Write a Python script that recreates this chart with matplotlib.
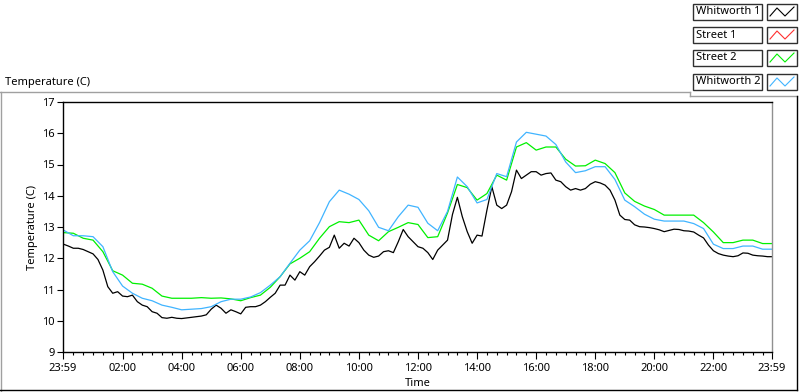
import numpy as np
import matplotlib
matplotlib.use("Agg")
import matplotlib.pyplot as plt
from matplotlib.lines import Line2D
from matplotlib.patches import Rectangle

plt.rcParams['font.family'] = ['Noto Sans', 'DejaVu Sans']

# sample times, minutes since midnight (last sample at 23:59)
t_10 = np.append(np.arange(0, 1440, 10), 1439)
t_20 = np.append(np.arange(0, 1440, 20), 1439)

whitworth1 = [
    12.45, 12.39, 12.32, 12.32, 12.28, 12.21, 12.14, 11.96, 11.62, 11.09,
    10.88, 10.93, 10.79, 10.77, 10.82, 10.61, 10.50, 10.45, 10.29, 10.24,
    10.10, 10.08, 10.11, 10.08, 10.07, 10.09, 10.11, 10.13, 10.15, 10.19,
    10.37, 10.50, 10.40, 10.24, 10.35, 10.29, 10.22, 10.43,
    10.45, 10.45, 10.50, 10.61, 10.75, 10.88, 11.14, 11.14, 11.46, 11.30,
    11.57, 11.46, 11.73, 11.89, 12.07, 12.26, 12.35, 12.74, 12.32, 12.48,
    12.39, 12.64, 12.50, 12.26, 12.10, 12.03, 12.07, 12.21, 12.24, 12.18,
    12.53, 12.92, 12.69, 12.53, 12.37, 12.32, 12.18, 11.96, 12.26, 12.42,
    12.58, 13.40, 13.95,
    13.33, 12.85, 12.48, 12.74, 12.71, 13.54, 14.29, 13.70, 13.59, 13.70,
    14.13, 14.82, 14.55, 14.66, 14.77, 14.77, 14.66, 14.71, 14.73, 14.50,
    14.45, 14.29, 14.18, 14.23, 14.18, 14.23, 14.37, 14.45, 14.41, 14.34,
    14.18, 13.86,
    13.38, 13.24, 13.22, 13.07, 13.01, 13.00, 12.98, 12.95, 12.91, 12.85,
    12.89, 12.93, 12.92, 12.88, 12.87, 12.84, 12.74, 12.65, 12.42, 12.24,
    12.15, 12.10, 12.07, 12.05, 12.08, 12.17, 12.16, 12.10, 12.08, 12.07,
    12.05, 12.05,
]

street1 = []  # no visible trace in the chart

street2 = [
    12.82, 12.80, 12.64, 12.58, 12.21, 11.60, 11.46, 11.20, 11.17, 11.04,
    10.79, 10.72, 10.72, 10.72, 10.74, 10.72, 10.73, 10.70, 10.64, 10.74,
    10.82, 11.07, 11.41, 11.82, 12.00, 12.21, 12.64, 13.01, 13.17, 13.14,
    13.22, 12.74, 12.56, 12.85, 12.99, 13.14, 13.08, 12.66, 12.69, 13.45,
    14.36, 14.26, 13.86, 14.07, 14.66, 14.50, 15.56, 15.70, 15.46, 15.56,
    15.56, 15.17, 14.95, 14.96, 15.14, 15.03,
    14.74, 14.09, 13.82, 13.67, 13.56, 13.38, 13.38, 13.38, 13.38, 13.14,
    12.84, 12.50, 12.50, 12.58, 12.58, 12.47, 12.47,
]

whitworth2 = [
    12.90, 12.72, 12.72, 12.69, 12.37, 11.57, 11.11, 10.88, 10.72, 10.64,
    10.50, 10.43, 10.35, 10.37, 10.39, 10.45, 10.61, 10.69, 10.69, 10.76,
    10.90, 11.14, 11.41, 11.84, 12.26, 12.56, 13.14, 13.81, 14.18, 14.05,
    13.88, 13.52, 12.99, 12.88, 13.33, 13.70, 13.63, 13.12, 12.88, 13.50,
    14.60, 14.29, 13.77, 13.88, 14.71, 14.61, 15.72, 16.03, 15.97, 15.91,
    15.64, 15.08, 14.74, 14.80, 14.93, 14.93,
    14.52, 13.86, 13.65, 13.41, 13.25, 13.19, 13.19, 13.19, 13.11, 12.95,
    12.45, 12.31, 12.31, 12.39, 12.39, 12.29, 12.29,
]

names = ['Whitworth 1', 'Street 1', 'Street 2', 'Whitworth 2']
colors = ['#000000', '#ff3030', '#00f000', '#40b4ff']

major_min = [-1, 120, 240, 360, 480, 600, 720, 840, 960, 1080, 1200, 1320, 1439]
major_lbl = ['23:59', '02:00', '04:00', '06:00', '08:00', '10:00', '12:00',
             '14:00', '16:00', '18:00', '20:00', '22:00', '23:59']

W, H = 800, 392
fig = plt.figure(figsize=(W / 100, H / 100), dpi=100)


def fx(x):
    return x / W


def fy(y):
    return 1 - y / H


ax = fig.add_axes([fx(63), fy(352), fx(772) - fx(63), fy(102) - fy(352)])

ax.plot(t_10, whitworth1, color=colors[0], lw=0.9)
ax.plot(t_20[:len(street1)], street1, color=colors[1], lw=0.9)
ax.plot(t_20, street2, color=colors[2], lw=0.9)
ax.plot(t_20, whitworth2, color=colors[3], lw=0.9)

ax.set_xlim(-1, 1439)
ax.set_ylim(9, 17)
ax.set_yticks(range(9, 18))
ax.set_xticks(major_min)
ax.set_xticklabels(major_lbl)
minor = [m for m in range(20, 1439, 20) if m % 120 != 0]
ax.set_xticks(minor, minor=True)
ax.tick_params(axis='both', which='major', direction='out', length=4, width=0.8,
               labelsize=8, pad=2)
ax.tick_params(axis='x', which='major', length=5, pad=3)
ax.tick_params(axis='x', which='minor', direction='out', length=2.5, width=0.8)
for s in ['left', 'top', 'bottom']:
    ax.spines[s].set_color('black')
    ax.spines[s].set_linewidth(1)
ax.spines['right'].set_color('#909090')
ax.spines['right'].set_linewidth(1)

ax.set_xlabel('Time', fontsize=8, labelpad=3)
ax.set_ylabel('Temperature (C)', fontsize=8, labelpad=3)

fig.text(fx(5), fy(82), 'Temperature (C)', fontsize=8, va='center', ha='left')

# panel frame
fig.add_artist(Line2D([fx(0), fx(690)], [fy(92), fy(92)], color='#a0a0a0', lw=1))
fig.add_artist(Line2D([fx(690), fx(690)], [fy(92), fy(96)], color='#a0a0a0', lw=1))
fig.add_artist(Line2D([fx(690), fx(797)], [fy(96), fy(96)], color='#a0a0a0', lw=1))
fig.add_artist(Line2D([fx(0.5), fx(0.5)], [fy(92), fy(392)], color='#a0a0a0', lw=1))
fig.add_artist(Line2D([fx(797), fx(797)], [fy(96), fy(390)], color='black', lw=1))
fig.add_artist(Line2D([fx(0), fx(797)], [fy(390), fy(390)], color='black', lw=1))

# legend
rows = [4, 27, 50, 74]
for name, col, top in zip(names, colors, rows):
    h = 16
    fig.add_artist(Rectangle((fx(693), fy(top + h)), fx(762) - fx(693), fy(top) - fy(top + h),
                             transform=fig.transFigure, fc='white', ec='#303030', lw=1))
    fig.text(fx(696), fy(top + h / 2), name, fontsize=8, va='center', ha='left')
    x0, x1 = 767, 797
    fig.add_artist(Rectangle((fx(x0), fy(top + h)), fx(x1) - fx(x0), fy(top) - fy(top + h),
                             transform=fig.transFigure, fc='white', ec='#303030', lw=1))
    zx = [x0 + 3, x0 + 10, x0 + 18, x0 + 27]
    zy = [top + h - 4, top + 4, top + h - 4, top + 3]
    fig.add_artist(Line2D([fx(v) for v in zx], [fy(v) for v in zy], color=col, lw=0.8))

fig.savefig('out.png', dpi=100)
